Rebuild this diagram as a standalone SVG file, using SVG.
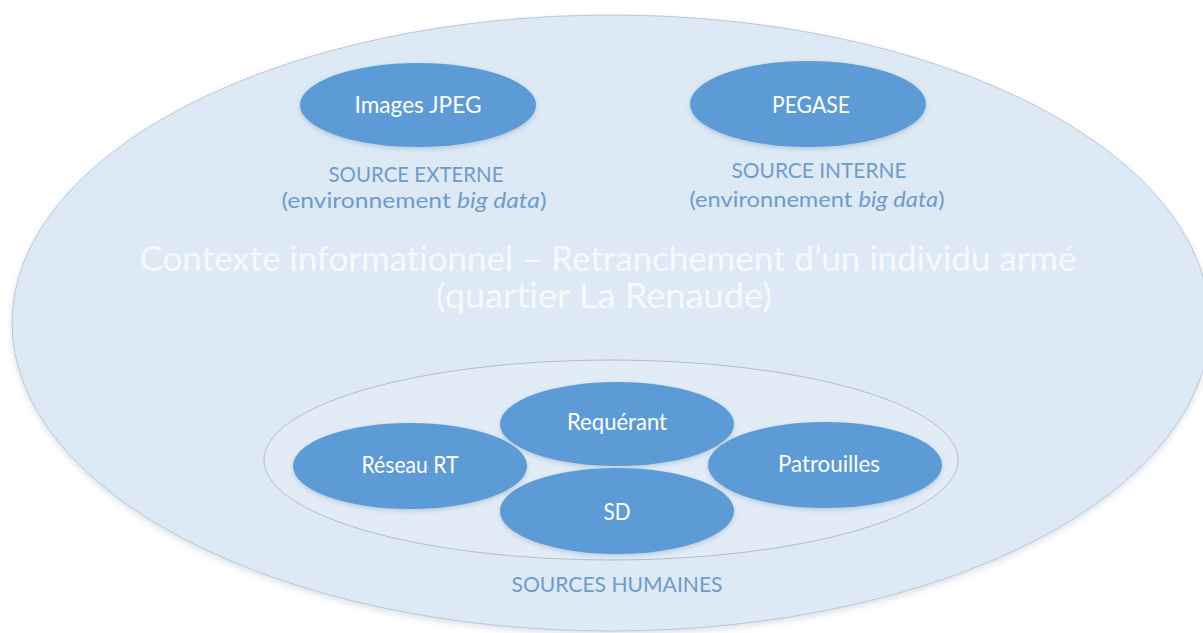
<svg xmlns="http://www.w3.org/2000/svg" width="1203" height="633" viewBox="0 0 1203 633">
<defs>
<filter id="sh" x="-20%" y="-20%" width="140%" height="150%">
<feGaussianBlur in="SourceAlpha" stdDeviation="2.5"/>
<feOffset dx="0" dy="2" result="b"/>
<feFlood flood-color="#7f9fbf" flood-opacity="0.45"/>
<feComposite in2="b" operator="in"/>
<feMerge><feMergeNode/><feMergeNode in="SourceGraphic"/></feMerge>
</filter>
<filter id="sh2" x="-5%" y="-5%" width="110%" height="112%">
<feGaussianBlur in="SourceAlpha" stdDeviation="3"/>
<feOffset dx="0" dy="3" result="b"/>
<feFlood flood-color="#b9c7d6" flood-opacity="0.5"/>
<feComposite in2="b" operator="in"/>
<feMerge><feMergeNode/><feMergeNode in="SourceGraphic"/></feMerge>
</filter>
</defs>
<style>
text{font-variant-ligatures:none;font-feature-settings:"liga" 0;}
.node{fill:#5B9BD5;}
.nt{font-family:Lato,"Liberation Sans",sans-serif;font-size:23px;fill:#ffffff;text-anchor:middle;}
.lab{font-family:Lato,"Liberation Sans",sans-serif;font-size:21px;fill:#6E9CCB;text-anchor:middle;}
.title{font-family:Lato,"Liberation Sans",sans-serif;font-size:34px;fill:#F6F9FC;text-anchor:middle;}
</style>
<rect width="1203" height="633" fill="#ffffff"/>
<g id="context">
<ellipse cx="611" cy="323" rx="599" ry="308" fill="#DDE9F5" stroke="#BCC7D3" stroke-width="1" filter="url(#sh2)"/>
<text class="title" x="608" y="271" textLength="937" lengthAdjust="spacingAndGlyphs">Contexte informationnel – Retranchement d’un individu armé</text>
<text class="title" x="604" y="308" textLength="336" lengthAdjust="spacingAndGlyphs">(quartier La Renaude)</text>
</g>
<g id="images-jpeg">
<ellipse class="node" cx="418" cy="105" rx="118" ry="42" filter="url(#sh)"/>
<text class="nt" x="418" y="113" textLength="127" lengthAdjust="spacingAndGlyphs">Images JPEG</text>
<text class="lab" x="416" y="182" textLength="175" lengthAdjust="spacingAndGlyphs">SOURCE EXTERNE</text>
<text class="lab" x="414" y="208" textLength="265" lengthAdjust="spacingAndGlyphs">(environnement <tspan font-style="italic">big data</tspan>)</text>
</g>
<g id="pegase">
<ellipse class="node" cx="808" cy="104" rx="118" ry="43" filter="url(#sh)"/>
<text class="nt" x="811" y="113" textLength="78" lengthAdjust="spacingAndGlyphs">PEGASE</text>
<text class="lab" x="819" y="178" textLength="175" lengthAdjust="spacingAndGlyphs">SOURCE INTERNE</text>
<text class="lab" x="817" y="207" textLength="255" lengthAdjust="spacingAndGlyphs">(environnement <tspan font-style="italic">big data</tspan>)</text>
</g>
<g id="sources-humaines">
<ellipse cx="611" cy="460" rx="347" ry="100" fill="#E2ECF7" stroke="#B5BEC8" stroke-width="1"/>
<text class="lab" x="617" y="592" textLength="211" lengthAdjust="spacingAndGlyphs">SOURCES HUMAINES</text>
</g>
<g id="requerant">
<ellipse class="node" cx="617" cy="424" rx="117" ry="42" filter="url(#sh)"/>
<text class="nt" x="617" y="430" textLength="100" lengthAdjust="spacingAndGlyphs">Requérant</text>
</g>
<g id="reseau-rt">
<ellipse class="node" cx="410" cy="466" rx="117" ry="43" filter="url(#sh)"/>
<text class="nt" x="410" y="473" textLength="97" lengthAdjust="spacingAndGlyphs">Réseau RT</text>
</g>
<g id="patrouilles">
<ellipse class="node" cx="825" cy="465" rx="117" ry="43" filter="url(#sh)"/>
<text class="nt" x="829" y="472" textLength="102" lengthAdjust="spacingAndGlyphs">Patrouilles</text>
</g>
<g id="sd">
<ellipse class="node" cx="617" cy="511" rx="117" ry="43" filter="url(#sh)"/>
<text class="nt" x="617" y="520" textLength="27" lengthAdjust="spacingAndGlyphs">SD</text>
</g>
<g id="connectors"/>
</svg>
